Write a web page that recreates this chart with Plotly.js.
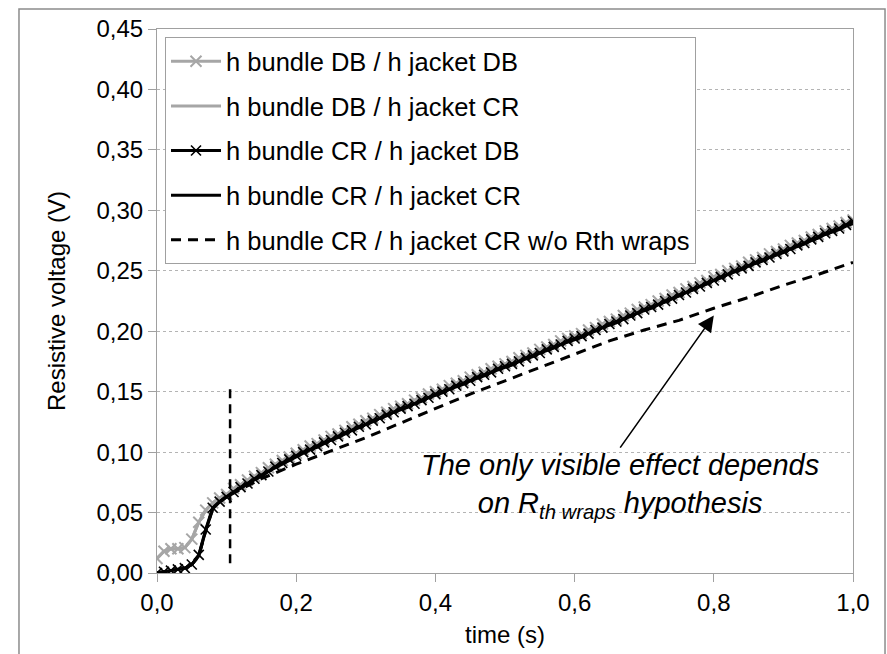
<!DOCTYPE html>
<html>
<head>
<meta charset="utf-8">
<script src="https://cdn.plot.ly/plotly-3.0.1.min.js"></script>
<style>html,body{margin:0;padding:0;background:#fff;}#chart{width:887px;height:654px;}</style>
</head>
<body>
<div id="chart"></div>
<script>
// ---- data ----
const tFull = [0.00,0.01,0.02,0.03,0.04,0.05,0.06,0.07,0.08,0.09,
  0.10,0.11,0.12,0.13,0.14,0.15,0.16,0.17,0.18,0.19,
  0.20,0.21,0.22,0.23,0.24,0.25,0.26,0.27,0.28,0.29,
  0.30,0.31,0.32,0.33,0.34,0.35,0.36,0.37,0.38,0.39,
  0.40,0.41,0.42,0.43,0.44,0.45,0.46,0.47,0.48,0.49,
  0.50,0.51,0.52,0.53,0.54,0.55,0.56,0.57,0.58,0.59,
  0.60,0.61,0.62,0.63,0.64,0.65,0.66,0.67,0.68,0.69,
  0.70,0.71,0.72,0.73,0.74,0.75,0.76,0.77,0.78,0.79,
  0.80,0.81,0.82,0.83,0.84,0.85,0.86,0.87,0.88,0.89,
  0.90,0.91,0.92,0.93,0.94,0.95,0.96,0.97,0.98,0.99,1.00];

// h bundle DB / h jacket DB (grey, x markers)
const vDBDB = [0.012,0.018,0.020,0.020,0.021,0.028,0.042,0.052,0.058,0.062,
  0.065,0.070,0.073,0.077,0.080,0.083,0.087,0.090,0.093,0.096,
  0.099,0.102,0.105,0.107,0.110,0.113,0.115,0.118,0.121,0.123,
  0.126,0.128,0.131,0.133,0.136,0.138,0.140,0.143,0.145,0.148,
  0.150,0.152,0.155,0.157,0.159,0.162,0.164,0.166,0.169,0.171,
  0.173,0.175,0.178,0.180,0.182,0.185,0.187,0.189,0.192,0.194,
  0.196,0.198,0.201,0.203,0.206,0.208,0.210,0.213,0.215,0.218,
  0.220,0.222,0.225,0.227,0.230,0.232,0.235,0.237,0.240,0.242,
  0.245,0.247,0.250,0.252,0.254,0.257,0.259,0.261,0.264,0.266,
  0.268,0.271,0.273,0.275,0.278,0.280,0.283,0.285,0.287,0.290,0.292];

// h bundle DB / h jacket CR (grey line)
const tDBCR = [0.00,0.01,0.02,0.03,0.04,0.05,0.06,0.07,0.08,0.09,0.10,0.15,0.20,0.30,0.40,0.50,0.60,0.70,0.80,0.90,1.00];
const vDBCR = [0.012,0.018,0.020,0.020,0.021,0.028,0.042,0.052,0.058,0.062,0.065,0.082,0.098,0.125,0.149,0.172,0.195,0.219,0.244,0.267,0.290];

// h bundle CR / h jacket DB (black, x markers)
const vCRDB = [0.000,0.001,0.002,0.003,0.004,0.007,0.015,0.036,0.054,0.059,
  0.063,0.067,0.071,0.074,0.078,0.081,0.084,0.088,0.091,0.094,
  0.097,0.100,0.102,0.105,0.108,0.110,0.113,0.116,0.118,0.121,
  0.123,0.126,0.128,0.131,0.133,0.136,0.138,0.140,0.143,0.145,
  0.148,0.150,0.152,0.155,0.157,0.159,0.162,0.164,0.166,0.169,
  0.171,0.173,0.175,0.178,0.180,0.182,0.185,0.187,0.189,0.192,
  0.194,0.196,0.198,0.201,0.203,0.206,0.208,0.210,0.213,0.215,
  0.218,0.220,0.222,0.225,0.227,0.230,0.232,0.235,0.237,0.240,
  0.242,0.245,0.247,0.250,0.252,0.254,0.257,0.259,0.261,0.264,
  0.266,0.268,0.271,0.273,0.276,0.278,0.281,0.283,0.285,0.288,0.291];

// h bundle CR / h jacket CR (black line)
const vCRCR = [0.000,0.001,0.002,0.003,0.004,0.007,0.014,0.035,0.053,0.059,
  0.063,0.067,0.070,0.074,0.077,0.080,0.084,0.087,0.090,0.093,
  0.096,0.099,0.102,0.104,0.107,0.110,0.112,0.115,0.118,0.120,
  0.123,0.125,0.128,0.130,0.133,0.135,0.137,0.140,0.142,0.145,
  0.147,0.149,0.152,0.154,0.156,0.159,0.161,0.163,0.166,0.168,
  0.170,0.172,0.175,0.177,0.179,0.182,0.184,0.186,0.189,0.191,
  0.193,0.195,0.198,0.200,0.203,0.205,0.207,0.210,0.212,0.215,
  0.217,0.219,0.222,0.224,0.227,0.229,0.232,0.234,0.237,0.239,
  0.242,0.244,0.247,0.249,0.251,0.254,0.256,0.258,0.261,0.263,
  0.265,0.268,0.270,0.272,0.275,0.277,0.280,0.282,0.284,0.287,0.289];

// h bundle CR / h jacket CR w/o Rth wraps (black dashed)
const tNoWraps = [0.00,0.01,0.02,0.03,0.04,0.05,0.06,0.07,0.08,0.09,0.10,0.15,0.20,0.25,0.30,0.35,0.40,0.45,0.50,0.55,0.60,0.65,0.70,0.75,0.78,0.80,0.85,0.90,0.95,1.00];
const vNoWraps = [0.000,0.001,0.002,0.003,0.004,0.007,0.014,0.035,0.053,0.059,0.063,0.078,0.090,0.101,0.112,0.124,0.136,0.148,0.159,0.170,0.181,0.192,0.201,0.209,0.215,0.219,0.228,0.238,0.247,0.257];

// vertical marker line
const markX = [0.105, 0.105];
const markY = [0.008, 0.155];

// arrow: head / tail
const arrowHead = [0.800, 0.213];
const arrowTail = [0.664, 0.1025];
const noteX = 0.665, noteY = 0.0719;

const names = ['h bundle DB / h jacket DB','h bundle DB / h jacket CR','h bundle CR / h jacket DB','h bundle CR / h jacket CR','h bundle CR / h jacket CR w/o Rth wraps'];
const xTickVals = [0,0.2,0.4,0.6,0.8,1.0];
const yTickVals = [0,0.05,0.10,0.15,0.20,0.25,0.30,0.35,0.40,0.45];

const GREY = '#a6a6a6';
const FONT = 'Liberation Sans, Arial, sans-serif';

const traces = [
  {x:tFull, y:vDBDB, name:names[0], legendgroup:'a', mode:'lines+markers',
   line:{color:GREY, width:3}, marker:{symbol:'x-thin', size:11, color:GREY, line:{color:GREY, width:2}}},
  {x:tDBCR, y:vDBCR, name:names[1], legendgroup:'b', mode:'lines',
   line:{color:GREY, width:3}},
  {x:tFull, y:vCRDB, name:names[2], legendgroup:'c', mode:'lines+markers',
   line:{color:'#000', width:3}, marker:{symbol:'x-thin', size:10, color:'#000', line:{color:'#000', width:1.6}}},
  {x:tFull, y:vCRCR, name:names[3], legendgroup:'d', mode:'lines',
   line:{color:'#000', width:3}},
  {x:tNoWraps, y:vNoWraps, name:names[4], legendgroup:'e', mode:'lines',
   line:{color:'#000', width:3, dash:'10px,7px'}},
  {x:markX, y:markY, mode:'lines', showlegend:false, hoverinfo:'skip',
   line:{color:'#000', width:2.5, dash:'9px,6px'}}
];

const axisCommon = {
  showline:true, linecolor:'#a0a0a0', linewidth:1, mirror:true,
  ticks:'outside', tickcolor:'#a0a0a0', ticklen:8, tickwidth:1,
  tickfont:{family:FONT, size:24, color:'#000'}, zeroline:false
};

const layout = {
  width:887, height:654,
  margin:{l:157, r:34, t:29, b:81},
  paper_bgcolor:'#fff', plot_bgcolor:'#fff',
  separators:', ',
  font:{family:FONT, size:24, color:'#000'},
  xaxis:Object.assign({}, axisCommon, {
    range:[0,1], tickvals:xTickVals, tickformat:'.1f', showgrid:false,
    title:{text:'time (s)', font:{family:FONT, size:24, color:'#000'}, standoff:11}
  }),
  yaxis:Object.assign({}, axisCommon, {
    range:[0,0.45], tickvals:yTickVals, tickformat:'.2f',
    showgrid:true, gridcolor:'#b4b4b4', gridwidth:1, griddash:'3px,3px',
    title:{text:'Resistive voltage (V)', font:{family:FONT, size:24, color:'#000'}, standoff:24}
  }),
  legend:{x:0.0115, y:0.985, xanchor:'left', yanchor:'top',
    bgcolor:'#fff', bordercolor:'#a0a0a0', borderwidth:1, itemwidth:50,
    font:{family:FONT, size:25.5, color:'#000'}, tracegroupgap:8.5, traceorder:'grouped'},
  annotations:[
    {x:arrowHead[0], y:arrowHead[1], xref:'x', yref:'y', ax:arrowTail[0], ay:arrowTail[1], axref:'x', ayref:'y',
     text:'', showarrow:true, arrowhead:2, arrowsize:2, arrowwidth:1.6, arrowcolor:'#000', standoff:0, startstandoff:0},
    {x:noteX, y:noteY, xref:'x', yref:'y', showarrow:false,
     text:'<i>The only visible effect depends<br>on R<sub>th wraps</sub> hypothesis</i>',
     font:{family:FONT, size:29, color:'#000'}, align:'center'}
  ],
  shapes:[
    {type:'rect', xref:'paper', yref:'paper', x0:-0.1983, x1:1.046, y0:-0.2, y1:1.0368,
     line:{color:'#8c8c8c', width:1.5}, fillcolor:'rgba(0,0,0,0)', layer:'below'}
  ],
  showlegend:true
};

Plotly.newPlot('chart', traces, layout, {displayModeBar:false, staticPlot:true});
</script>
</body>
</html>
